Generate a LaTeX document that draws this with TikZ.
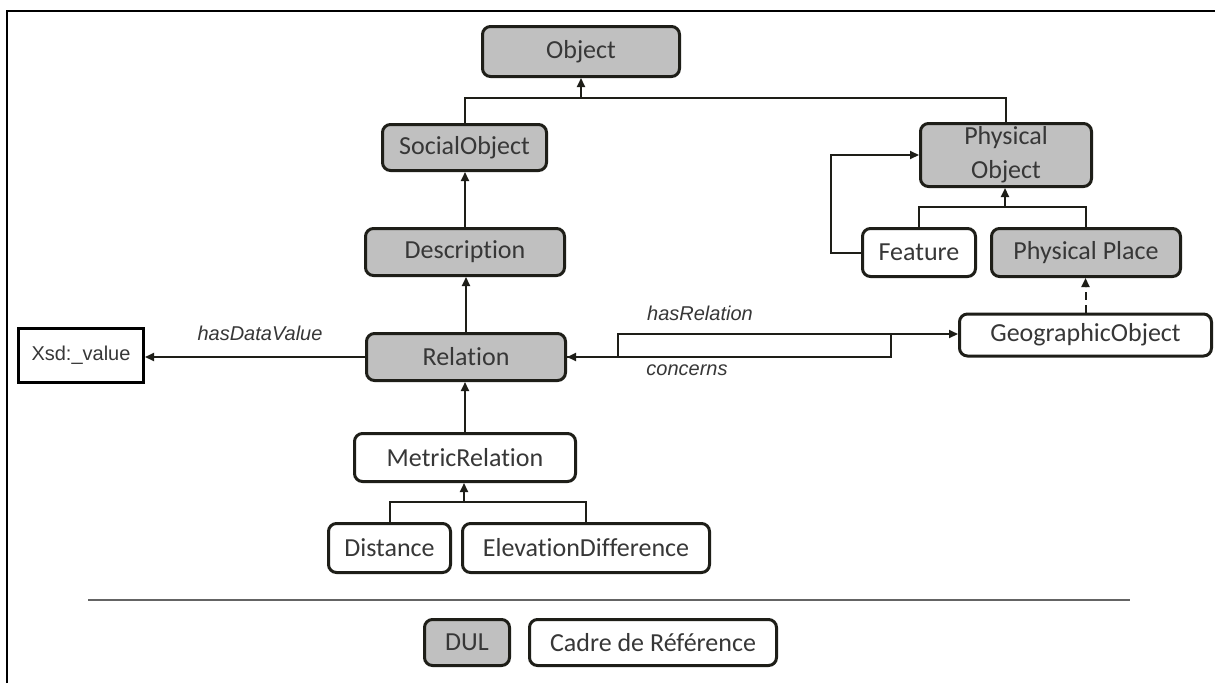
\documentclass[tikz,border=0pt]{standalone}
\usepackage{fontspec}
\setmainfont[Ligatures=NoCommon]{Carlito}
\newfontfamily\labfont{Liberation Sans}
\usetikzlibrary{arrows.meta}
\definecolor{boxgray}{RGB}{192,192,192}
\definecolor{edge}{RGB}{30,30,24}
\definecolor{txt}{RGB}{55,55,55}
\definecolor{sepgray}{RGB}{100,100,100}
\begin{document}
\begin{tikzpicture}[x=1pt,y=-1pt,
  box/.style={draw=edge, line width=3pt, rounded corners=8pt, inner sep=0pt, text=txt,
    font=\fontsize{26}{34}\selectfont, align=center},
  dul/.style={box, fill=boxgray},
  ref/.style={box, fill=white},
  conn/.style={draw=edge, line width=2pt},
  arr/.style={conn, -{Triangle[length=9pt,width=8pt]}},
  lab/.style={font=\labfont\itshape\fontsize{20}{24}\selectfont, text=txt, inner sep=0pt}]
\useasboundingbox (0,0) rectangle (1215,683);
\fill[white] (0,0) rectangle (1215,683);
% frame
\draw[line width=2.5pt] (7,683) -- (7,11) -- (1215,11);
% nodes
\node[dul, minimum width=197pt, minimum height=50pt] (Object) at (581,51.5) {Object};
\node[dul, minimum width=164pt, minimum height=46pt] (SocialObject) at (464.5,147.5) {SocialObject};
\node[dul, minimum width=171pt, minimum height=63pt] (PhysObj) at (1006,155) {Physical\\Object};
\node[dul, minimum width=199pt, minimum height=47pt] (Description) at (465,252) {Description};
\node[ref, minimum width=113pt, minimum height=48pt] (Feature) at (919,252.5) {Feature};
\node[dul, minimum width=189pt, minimum height=48pt] (PhysPlace) at (1086,252.5) {Physical Place};
\node[draw=black, line width=3pt, inner sep=0pt, text=txt, font=\labfont\fontsize{20}{24}\selectfont,
  minimum width=125pt, minimum height=54pt] (Xsd) at (81,355.5) {Xsd:\_value};
\node[dul, minimum width=199pt, minimum height=47pt] (Relation) at (466,357) {Relation};
\node[ref, minimum width=252pt, minimum height=42pt] (Geo) at (1085.5,335) {GeographicObject};
\node[ref, minimum width=221pt, minimum height=48pt] (MetricRelation) at (465,457.5) {MetricRelation};
\node[ref, minimum width=122pt, minimum height=49pt] (Distance) at (389.5,548) {Distance};
\node[ref, minimum width=247pt, minimum height=49pt] (Elevation) at (586,548) {ElevationDifference};
\node[dul, minimum width=85pt, minimum height=46pt] (DUL) at (467,642.5) {DUL};
\node[ref, minimum width=247pt, minimum height=46pt] (Cadre) at (653,642.5) {Cadre de Référence};
% junctions
\coordinate (j1) at (581,98);
\coordinate (j2) at (464,502);
\coordinate (j3) at (1005,207);
\coordinate (r1) at (618,334);
\coordinate (c1) at (891,334);
% connectors
\draw[conn] (SocialObject.north) |- (j1) -| (PhysObj.north);
\draw[arr] (j1) -- (Object.south);
\draw[arr] (Description.north) -- (Description.north |- SocialObject.south);
\draw[arr] (Relation.north) -- (Relation.north |- Description.south);
\draw[arr] (MetricRelation.north) -- (MetricRelation.north |- Relation.south);
\draw[conn] (Distance.north) |- (Elevation.north |- j2) -- (Elevation.north);
\draw[arr] (j2) -- (j2 |- MetricRelation.south);
\draw[conn] (Feature.north) |- (PhysPlace.north |- j3) -- (PhysPlace.north);
\draw[arr] (j3) -- (j3 |- PhysObj.south);
\draw[arr] (Feature.west) -- ++(-30,0) |- (PhysObj.west);
\draw[arr, dash pattern=on 8pt off 5pt] (Geo.north) -- (Geo.north |- PhysPlace.south);
\draw[arr] (Relation.west) -- (Relation.west -| Xsd.east);
\draw[arr] (Relation.east) -| (r1) -- (r1 -| Geo.west);
\draw[arr] (c1) |- (Relation.east);
% labels
\node[lab] (lhdv) at (260,333) {hasDataValue};
\node[lab] (lhr) at (700,313) {hasRelation};
\node[lab] (lcon) at (687,370) {concerns};
% separator
\draw[line width=2pt, sepgray] (88,600) -- (1130,600);
\end{tikzpicture}
\end{document}
